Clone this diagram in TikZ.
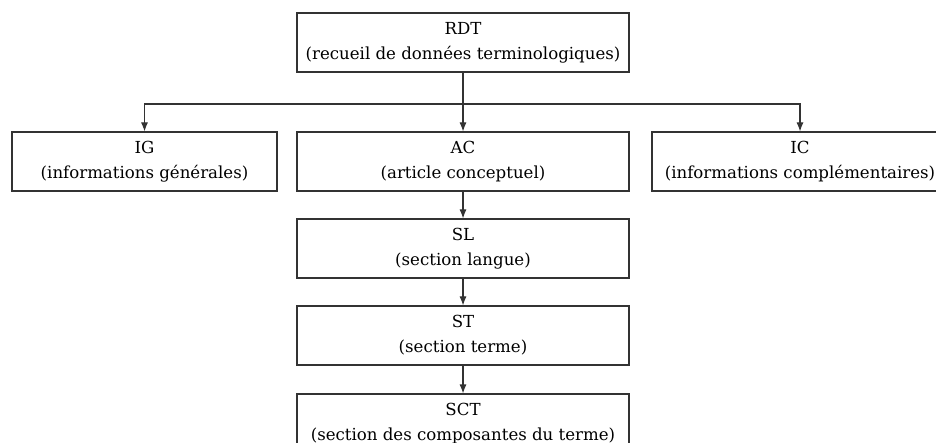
\documentclass[tikz,border=0pt]{standalone}
\usepackage{fontspec}
\setmainfont{DejaVu Serif}
\usetikzlibrary{arrows.meta}

\newcommand\rdtfont{\fontsize{16.6}{25}\selectfont}
\tikzset{
	rdtbox/.style={draw=black!80,line width=1.1pt,minimum height=59pt,inner sep=0pt,align=center,font=\rdtfont},
	rdtlink/.style={draw=black!80,line width=1.1pt,->}
}

\begin{document}
\begin{tikzpicture}[x=1pt,y=-1pt,every path/.style={>={Latex[length=9pt,width=7pt]}}]
		\clip (0,0) rectangle (936,443);
	
		% draw top box
		\node (rdt) at (463,42.5) [rdtbox,minimum width=332pt] {RDT\\(recueil de données terminologiques)};
	
		% draw second row
		\node (ig) at (144.5,161.5) [rdtbox,minimum width=265pt] {IG\\(informations générales)};
		\node (ac) at (463,161.5) [rdtbox,minimum width=332pt] {AC\\(article conceptuel)};
		\node (ic) at (800,161.5) [rdtbox,minimum width=296pt] {IC\\(informations complémentaires)};
	
		% draw sections
		\node (sl) at (463,248.5) [rdtbox,minimum width=332pt] {SL\\(section langue)};
		\node (st) at (463,335.5) [rdtbox,minimum width=332pt] {ST\\(section terme)};
		\node (sct) at (463,423.5) [rdtbox,minimum width=332pt] {SCT\\(section des composantes du terme)};
	
		% draw branches
		\coordinate (split) at (463,104);
		\draw[rdtlink] (rdt.south) to (ac.north);
		\draw[rdtlink] (split) -| (ig.north);
		\draw[rdtlink] (split) -| (ic.north);
	
		% draw section arrows
		\foreach \a/\b in {ac/sl,sl/st,st/sct}
		{
			\draw[rdtlink] (\a.south) to (\b.north);
		}
	\end{tikzpicture}
\end{document}
